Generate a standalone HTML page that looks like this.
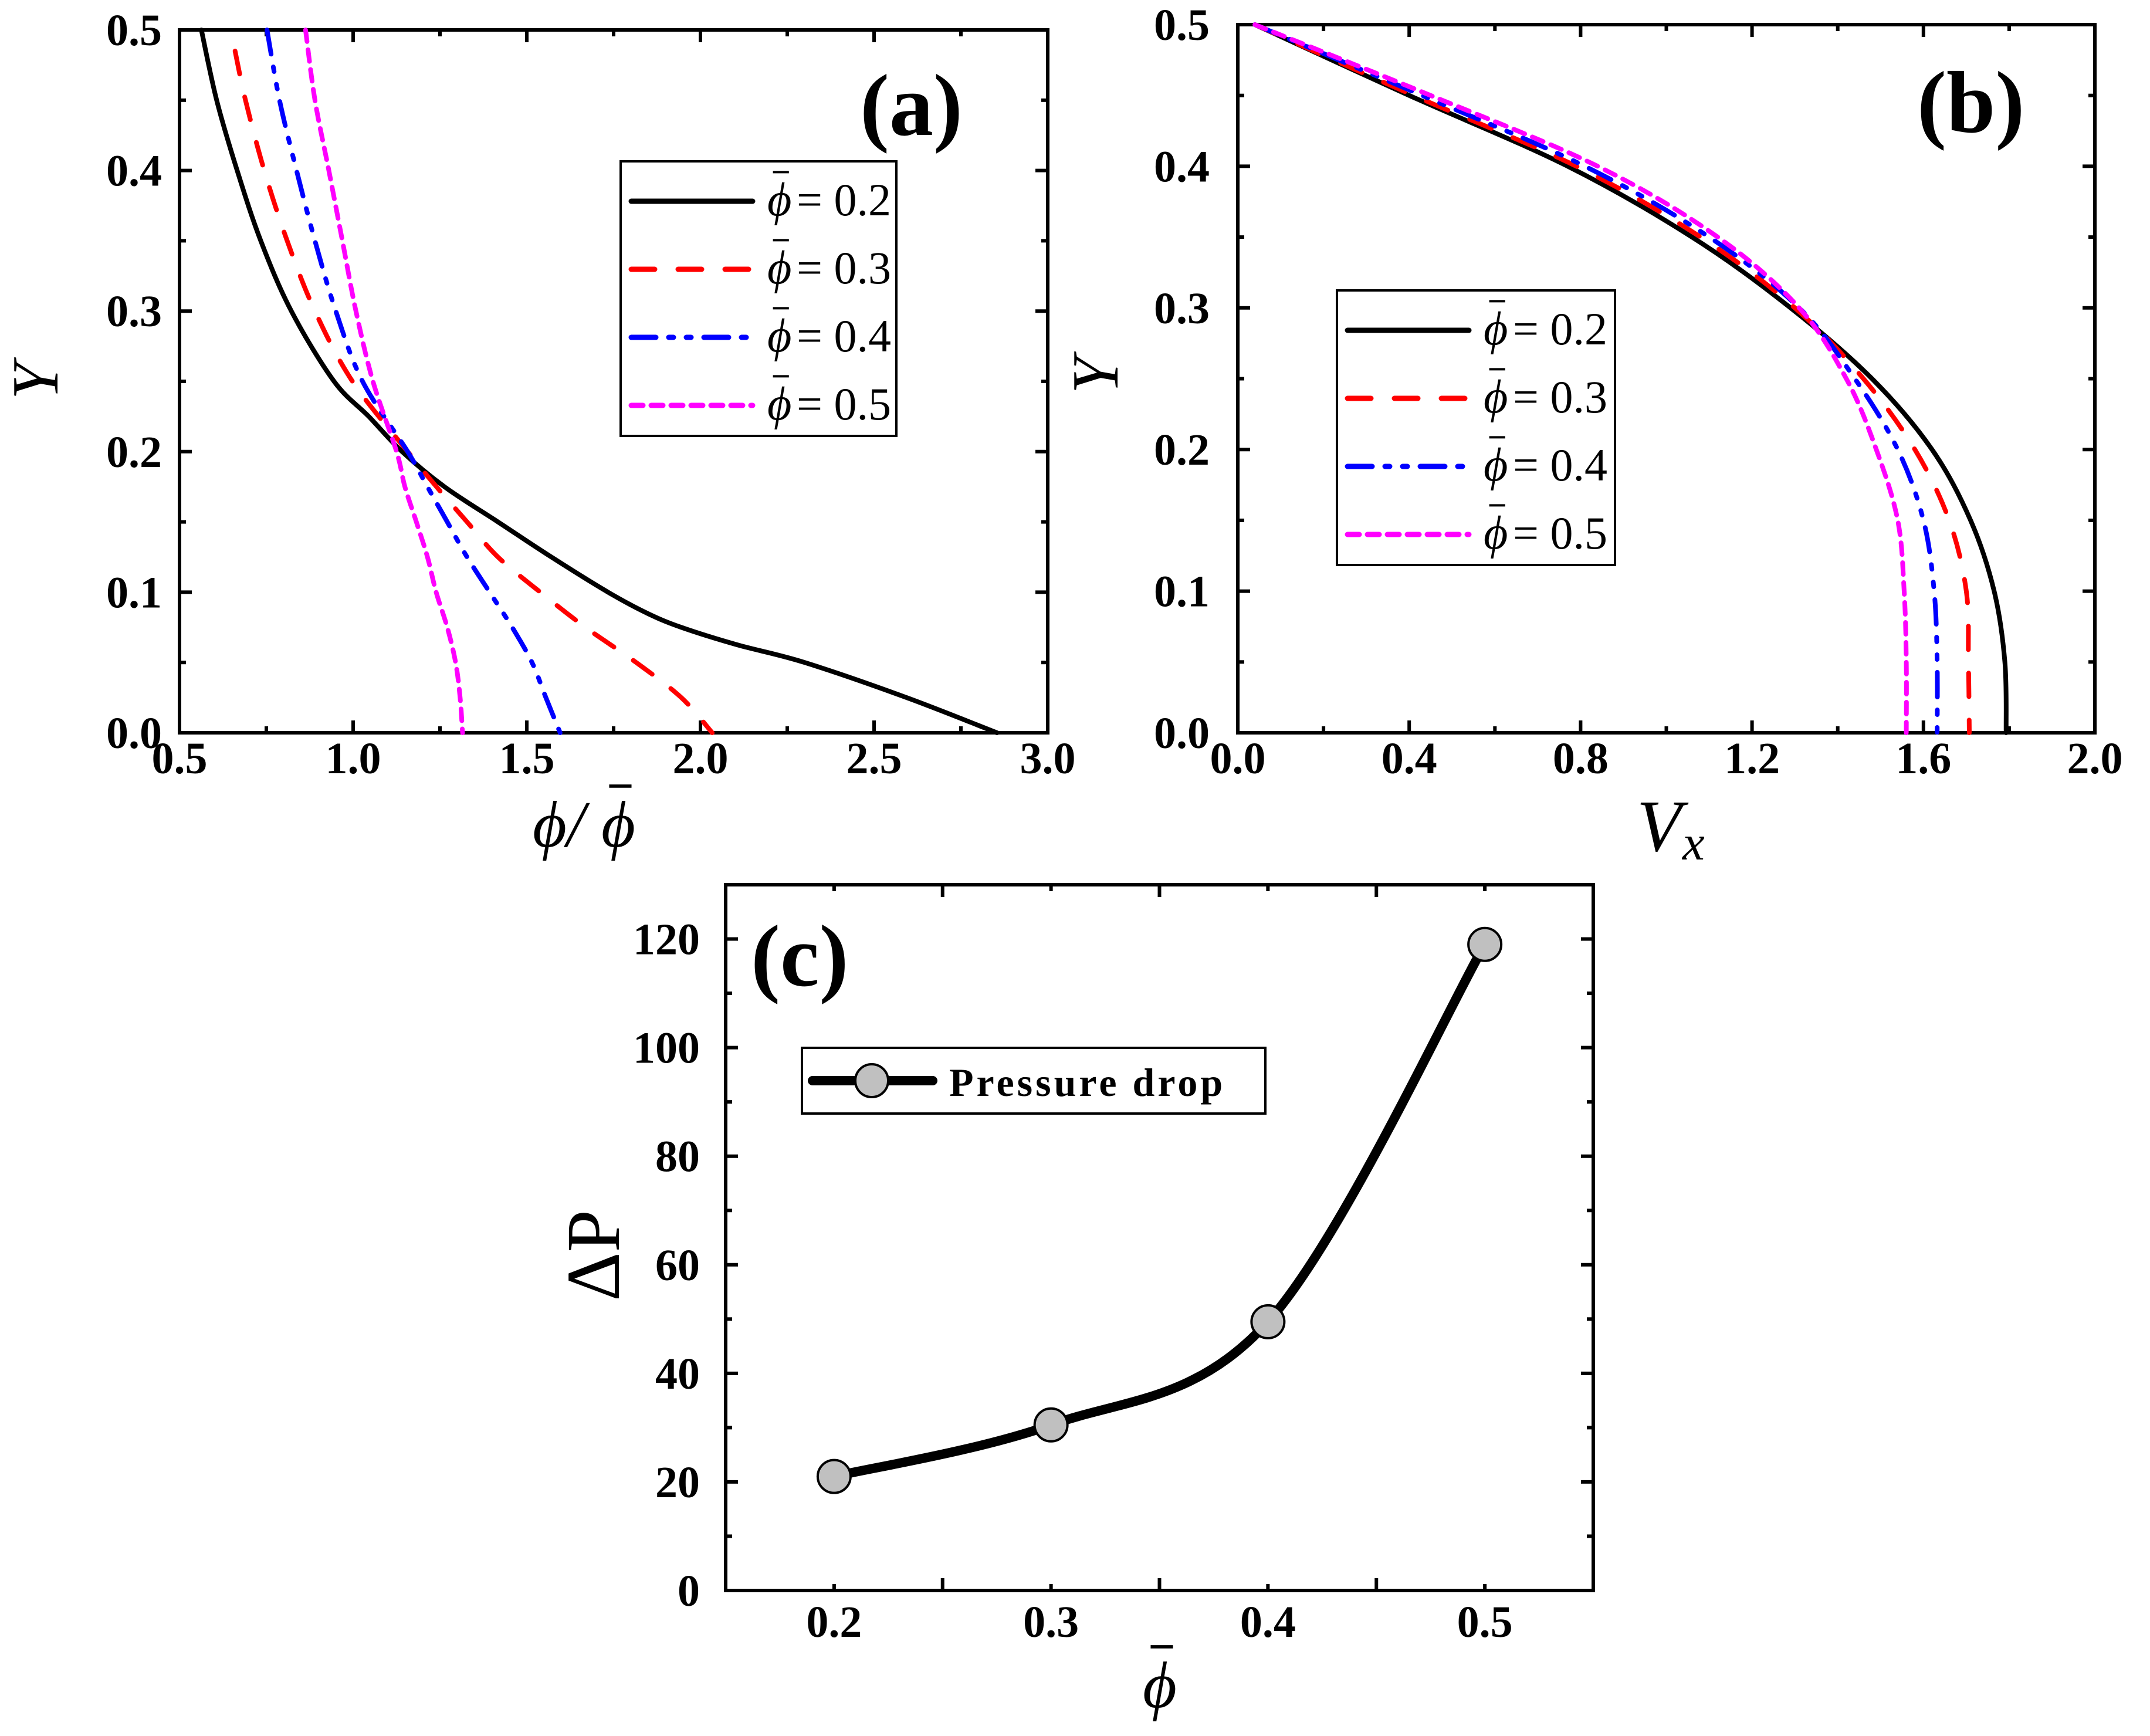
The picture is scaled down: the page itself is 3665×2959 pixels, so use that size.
<!DOCTYPE html>
<html><head><meta charset="utf-8"><style>
html,body{margin:0;padding:0;background:#fff}
svg{display:block}
text{font-family:"Liberation Serif",serif}
</style></head><body>
<svg id="fig" width="3665" height="2959" viewBox="0 0 3665 2959" xmlns="http://www.w3.org/2000/svg"></svg>
<script>
// ---- Panel (a) data: phi/phibar vs Y ----
const aY = [0.5,0.45,0.4,0.35,0.3,0.25,0.225,0.2,0.175,0.15,0.125,0.1,0.085,0.075,0.0625,0.05,0.025,0.0];
const aBlack = [0.563,0.607,0.666,0.734,0.822,0.945,1.045,1.141,1.263,1.417,1.571,1.734,1.847,1.945,2.107,2.30,2.594,2.854];
const aY2 = [0.485,0.45,0.4,0.35,0.3,0.25,0.2,0.175,0.15,0.125,0.1,0.075,0.05,0.025,0.0];
const aRed = [0.66,0.69,0.744,0.81,0.89,0.998,1.157,1.24,1.328,1.417,1.539,1.669,1.815,1.945,2.034];
const aY3 = [0.5,0.45,0.4,0.35,0.3,0.25,0.2,0.175,0.15,0.125,0.1,0.075,0.05,0.025,0.0];
const aBlue = [0.752,0.788,0.837,0.89,0.95,1.027,1.157,1.214,1.271,1.328,1.393,1.458,1.515,1.555,1.596];
const aMag = [0.863,0.89,0.93,0.969,1.008,1.057,1.125,1.149,1.182,1.214,1.239,1.271,1.295,1.308,1.315];
const aXTicks = ["0.5","1.0","1.5","2.0","2.5","3.0"];
const aYTicks = ["0.0","0.1","0.2","0.3","0.4","0.5"];
// ---- Panel (b) data: Vx vs Y ----
const bY = [0.5,0.45,0.4,0.35,0.3,0.25,0.2,0.15,0.1,0.05,0.0];
const bBlack = [0.04,0.40,0.77,1.06,1.29,1.48,1.62,1.71,1.765,1.79,1.793];
const bRed = [0.04,0.41,0.79,1.08,1.30,1.46,1.58,1.66,1.70,1.705,1.707];
const bBlue = [0.04,0.43,0.81,1.10,1.31,1.44,1.54,1.60,1.625,1.632,1.632];
const bMag = [0.04,0.45,0.84,1.12,1.31,1.42,1.49,1.54,1.555,1.56,1.56];
const bXTicks = ["0.0","0.4","0.8","1.2","1.6","2.0"];
const bYTicks = ["0.0","0.1","0.2","0.3","0.4","0.5"];
// ---- Panel (c) data: pressure drop ----
const cX = [0.2,0.3,0.4,0.5];
const cP = [21,30.5,49.5,119];
const cXTicks = ["0.2","0.3","0.4","0.5"];
const cYTicks = ["0","20","40","60","80","100","120"];
const legendLabels = ["0.2","0.3","0.4","0.5"];

const NS="http://www.w3.org/2000/svg";
const svg=document.getElementById('fig');
function mk(tag,attrs,parent){const e=document.createElementNS(NS,tag);for(const k in attrs)e.setAttribute(k,attrs[k]);(parent||svg).appendChild(e);return e;}
function scale(d0,d1,r0,r1){return v=>r0+(v-d0)/(d1-d0)*(r1-r0);}
function smooth(pts){let d="M"+pts[0][0]+","+pts[0][1];for(let i=0;i<pts.length-1;i++){const p0=pts[Math.max(0,i-1)],p1=pts[i],p2=pts[i+1],p3=pts[Math.min(pts.length-1,i+2)];const c1x=p1[0]+(p2[0]-p0[0])/6,c1y=p1[1]+(p2[1]-p0[1])/6,c2x=p2[0]-(p3[0]-p1[0])/6,c2y=p2[1]-(p3[1]-p1[1])/6;d+=` C${c1x},${c1y} ${c2x},${c2y} ${p2[0]},${p2[1]}`;}return d;}
const styles=[{c:"#000",d:""},{c:"#ff0000",d:"40 40"},{c:"#0000ff",d:"42 22 8 22 8 22"},{c:"#ff00ff",d:"20 14"}];

function axes(g,L,R,T,B,xs,ys,xt,yt,xMinor,yMinor,xlabY,ylabX,fs){
  mk('rect',{x:L,y:T,width:R-L,height:B-T,fill:'none',stroke:'#000','stroke-width':6},g);
  xMinor.forEach((v,i)=>{const x=xs(v);const len=(i%2==0)?21:11;
    mk('line',{x1:x,y1:B,x2:x,y2:B-len,stroke:'#000','stroke-width':6},g);
    mk('line',{x1:x,y1:T,x2:x,y2:T+len,stroke:'#000','stroke-width':6},g);});
  yMinor.forEach((v,i)=>{const y=ys(v);const len=(i%2==0)?21:11;
    mk('line',{x1:L,y1:y,x2:L+len,y2:y,stroke:'#000','stroke-width':6},g);
    mk('line',{x1:R,y1:y,x2:R-len,y2:y,stroke:'#000','stroke-width':6},g);});
  xt.forEach(t=>{const e=mk('text',{x:xs(parseFloat(t)),y:xlabY,'font-size':fs,'font-weight':'bold','text-anchor':'middle'},g);e.textContent=t;});
  yt.forEach(t=>{const e=mk('text',{x:ylabX,y:ys(parseFloat(t))+26,'font-size':fs,'font-weight':'bold','text-anchor':'end'},g);e.textContent=t;});
}
function phibar(g,x,y,fs){
  const t=mk('text',{x:x,y:y,'font-size':fs,'font-style':'italic'},g);t.textContent="ϕ";
  mk('line',{x1:x+fs*0.12,y1:y-fs*0.92,x2:x+fs*0.46,y2:y-fs*0.92,stroke:'#000','stroke-width':fs*0.05},g);
}
function legend(g,x,y,w,h,rows){
  mk('rect',{x:x,y:y,width:w,height:h,fill:'#fff',stroke:'#000','stroke-width':4},g);
  rows.forEach((r,i)=>{const yy=y+68+i*116;
    const ln=mk('line',{x1:x+18,y1:yy,x2:x+225,y2:yy,stroke:styles[i].c,'stroke-width':9,'stroke-dasharray':styles[i].d,'stroke-linecap':'round'},g);
    
    phibar(g,x+250,yy+24,80);
    const t=mk('text',{x:x+300,y:yy+24,'font-size':78},g);t.textContent="= "+r;
  });
}
function series(g,xs,ys,X,Y,i,name){
  const pts=X.map((v,k)=>[xs(v),ys(Y[k])]);
  const p=mk('path',{d:smooth(pts),fill:'none',stroke:styles[i].c,'stroke-width':8,'stroke-dasharray':styles[i].d,'stroke-linecap':'round'},g);
  
}
function range(a,b,s){const r=[];for(let v=a;v<=b+1e-9;v+=s)r.push(+v.toFixed(6));return r;}

// Panel (a)
{const g=mk('g',{});
 const L=306,R=1786,T=51,B=1249;const xs=scale(0.5,3.0,L,R),ys=scale(0,0.5,B,T);
 axes(g,L,R,T,B,xs,ys,aXTicks,aYTicks,range(0.5,3.0,0.25),range(0,0.5,0.05),1318,276,76);
 series(g,xs,ys,aBlack,aY,0,'curve-a-0.2');series(g,xs,ys,aRed,aY2,1,'curve-a-0.3');
 series(g,xs,ys,aBlue,aY3,2,'curve-a-0.4');series(g,xs,ys,aMag,aY3,3,'curve-a-0.5');
 const pl=mk('text',{x:1466,y:230,'font-size':150,'font-weight':'bold'},g);pl.textContent="(a)";
 legend(g,1058,275,470,468,legendLabels);
 const yl=mk('text',{x:0,y:0,'font-size':112,'font-style':'italic',transform:'translate(98,650) rotate(-90)','text-anchor':'middle'},g);yl.textContent="Y";
 const xl=mk('text',{x:908,y:1443,'font-size':112,'font-style':'italic'},g);xl.textContent="ϕ/";
 phibar(g,1025,1443,112);
}
// Panel (b)
{const g=mk('g',{});
 const L=2110,R=3571,T=42,B=1249;const xs=scale(0,2.0,L,R),ys=scale(0,0.5,B,T);
 axes(g,L,R,T,B,xs,ys,bXTicks,bYTicks,range(0,2.0,0.2),range(0,0.5,0.05),1318,2062,76);
 series(g,xs,ys,bBlack,bY,0,'curve-b-0.2');series(g,xs,ys,bRed,bY,1,'curve-b-0.3');
 series(g,xs,ys,bBlue,bY,2,'curve-b-0.4');series(g,xs,ys,bMag,bY,3,'curve-b-0.5');
 const pl=mk('text',{x:3268,y:225,'font-size':150,'font-weight':'bold'},g);pl.textContent="(b)";
 legend(g,2279,495,474,468,legendLabels);
 const yl=mk('text',{x:0,y:0,'font-size':112,'font-style':'italic',transform:'translate(1905,640) rotate(-90)','text-anchor':'middle'},g);yl.textContent="Y";
 const xl=mk('text',{x:2790,y:1450,'font-size':125,'font-style':'italic'},g);xl.textContent="V";
 const xs2=mk('text',{x:2868,y:1465,'font-size':85,'font-style':'italic'},g);xs2.textContent="x";
}
// Panel (c)
{const g=mk('g',{});
 const L=1237,R=2716,T=1508,B=2711;const xs=scale(0.15,0.55,L,R),ys=scale(0,130,B,T);
 axes(g,L,R,T,B,xs,ys,cXTicks,cYTicks,range(0.15,0.55,0.05),range(0,130,10),2790,1193,76);
 const pts=cX.map((v,k)=>[xs(v),ys(cP[k])]);
 const p=mk('path',{d:smooth(pts),fill:'none',stroke:'#000','stroke-width':16,'stroke-linecap':'round'},g);
 
 cX.forEach((v,k)=>{const c=mk('circle',{cx:xs(v),cy:ys(cP[k]),r:28,fill:'#c0c0c0',stroke:'#000','stroke-width':4},g);
   });
 const pl=mk('text',{x:1280,y:1680,'font-size':150,'font-weight':'bold'},g);pl.textContent="(c)";
 const lg=mk('rect',{x:1367,y:1786,width:790,height:112,fill:'#fff',stroke:'#000','stroke-width':4},g);
 mk('line',{x1:1385,y1:1842,x2:1590,y2:1842,stroke:'#000','stroke-width':16,'stroke-linecap':'round'},g);
 mk('circle',{cx:1486,cy:1842,r:28,fill:'#c0c0c0',stroke:'#000','stroke-width':4},g);
 const lt=mk('text',{x:1618,y:1868,'font-size':68,'font-weight':'bold','letter-spacing':5},g);lt.textContent="Pressure drop";
 const yl=mk('text',{x:0,y:0,'font-size':130,transform:'translate(1055,2140) rotate(-90)','text-anchor':'middle'},g);yl.textContent="ΔP";
 phibar(g,1948,2910,112);
}
</script>
</body></html>
